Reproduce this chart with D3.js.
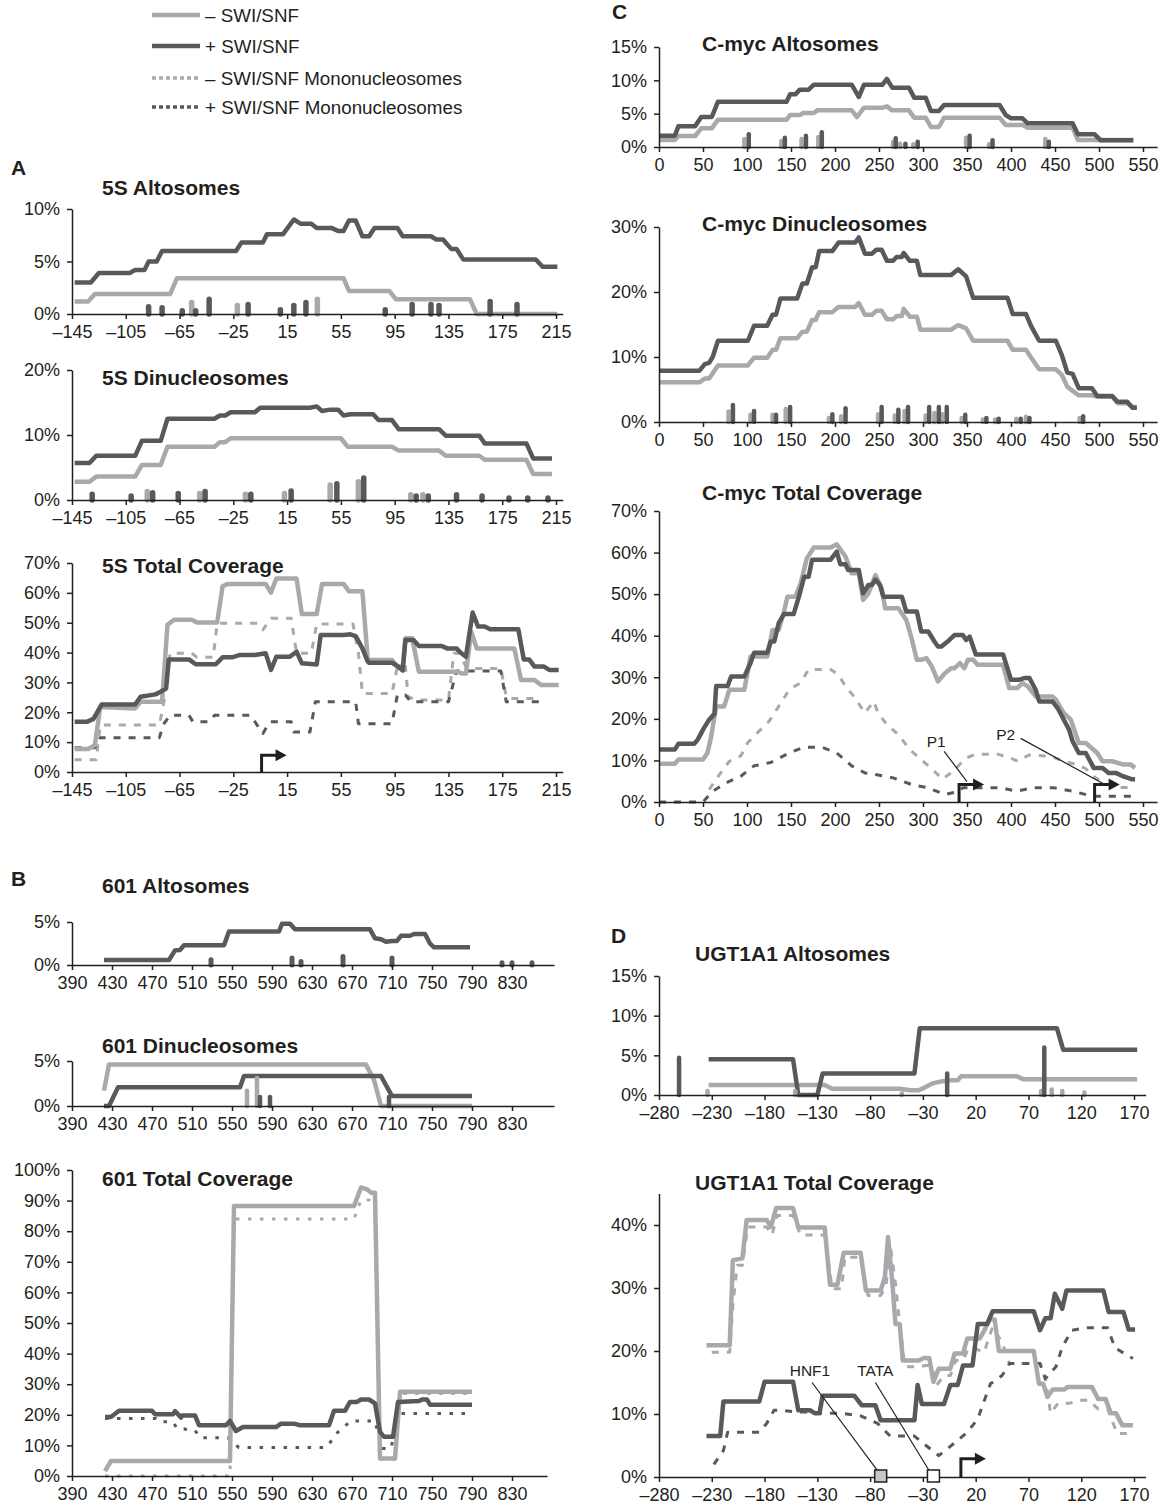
<!DOCTYPE html>
<html>
<head>
<meta charset="utf-8">
<script src="https://cdn.jsdelivr.net/npm/d3@7"></script>
<style>
	body { margin: 0; background: #fff; }
	svg { display: block; font-family: 'Liberation Sans', Arial, Helvetica, sans-serif; }
</style>
</head>
<body>
<svg id="chart" width="1164" height="1510"></svg>
<script>
// ---- ticks ----
const ticks5S = [-145, -105, -65, -25, 15, 55, 95, 135, 175, 215];
const ticks601 = [390, 430, 470, 510, 550, 590, 630, 670, 710, 750, 790, 830];
const ticksMyc = [0, 50, 100, 150, 200, 250, 300, 350, 400, 450, 500, 550];
const ticksUgt = [-280, -230, -180, -130, -80, -30, 20, 70, 120, 170];

// ---- 5S ----
const alto5sPlus = [[-143,3.0],[-131,3.0],[-125,3.9],[-102,3.9],[-98,4.2],[-91,4.2],[-88,5.0],[-82,5.0],[-78,6.0],[-23,6.0],[-19,6.8],[-3,6.8],[0,7.6],[12,7.6],[20,9.0],[25,8.6],[33,8.6],[37,8.2],[48,8.2],[53,7.9],[57,7.9],[61,8.9],[66,8.9],[71,7.4],[76,7.4],[80,8.2],[97,8.2],[101,7.4],[122,7.4],[126,7.1],[131,7.1],[137,6.2],[141,6.2],[146,5.2],[200,5.2],[205,4.5],[216,4.5]];
const alto5sMinus = [[-143,1.2],[-133,1.2],[-128,1.9],[-72,1.9],[-67,3.4],[57,3.4],[61,2.2],[91,2.2],[96,1.4],[151,1.4],[156,0],[216,0]];
const alto5sBarsMinus = [[-56,1.1],[-22,0.8],[37.5,1.4]];
const alto5sBarsPlus = [[-88,0.7],[-78,0.6],[-63,0.3],[-53,0.3],[-43,1.4],[-14,0.9],[10,0.4],[20,0.8],[29,1.1],[88,0.4],[108,0.9],[122,0.9],[128,0.8],[166,1.2],[186,0.9]];

const di5sPlus = [[-143,5.7],[-132,5.7],[-127,6.8],[-98,6.8],[-93,9.1],[-79,9.1],[-74,12.5],[-39,12.5],[-35,13.0],[-31,13.0],[-27,13.5],[-9,13.5],[-5,14.2],[32,14.2],[37,14.4],[41,13.7],[47,13.9],[53,13.9],[57,13.0],[62,13.2],[79,13.2],[83,12.3],[93,12.3],[98,10.9],[128,10.9],[133,9.9],[158,9.9],[162,8.7],[193,8.7],[198,6.4],[212,6.4]];
const di5sMinus = [[-143,2.8],[-132,2.8],[-127,3.6],[-98,3.6],[-93,5.4],[-79,5.4],[-74,8.2],[-39,8.2],[-35,8.9],[-31,8.9],[-27,9.5],[55,9.5],[60,8.2],[93,8.2],[98,7.6],[128,7.6],[133,6.8],[158,6.8],[162,6.2],[193,6.2],[198,4.0],[212,4.0]];
const di5sBarsMinus = [[-89,1.3],[-50,1.0],[-16,0.9],[13,1.0],[47,2.3],[68,2.8],[107,0.8],[116,0.8]];
const di5sBarsPlus = [[-130,0.9],[-101,0.6],[-85,1.1],[-66,1.0],[-46,1.3],[-12,0.9],[18,1.4],[52,2.5],[72,3.4],[111,0.6],[120,0.6],[141,0.8],[160,0.6],[180,0.3],[194,0.3],[209,0.3]];

const tot5sPlus = [[-143,16.8],[-134,16.8],[-129,17.8],[-123,22.6],[-98,22.6],[-94,25.2],[-83,26.0],[-79,26.9],[-75,28],[-73,37.7],[-58,37.7],[-53,36.1],[-38,36.1],[-33,38.4],[-26,38.4],[-20,39.2],[-9,39.2],[-1,39.8],[3,34.2],[7,38.6],[17,38.6],[22,40.3],[26,36.4],[37,36.0],[40,45.9],[57,45.9],[62,46.1],[66,45.5],[71,41.4],[75,37],[76,36.6],[93,36.6],[97,35.5],[101,34.0],[103,44.2],[109,44.2],[113,42.2],[130,42.2],[134,41.4],[141,41.4],[144,40.0],[148,38.6],[153,53.4],[157,48.7],[162,48.7],[166,47.8],[187,47.8],[191,37.7],[195,37.7],[199,35.3],[206,35.3],[210,34.2],[217,34.2]];
const tot5sMinus = [[-143,7.7],[-133,7.7],[-128,9.0],[-124,21.8],[-98,21.3],[-94,23.5],[-78,23.5],[-74,49.3],[-69,51.0],[-56,51.0],[-52,50.1],[-37,50.1],[-33,62.2],[-29,63.0],[-1,63.0],[3,60.1],[7,64.8],[22,64.8],[26,52.9],[37,52.9],[41,63.0],[57,63.0],[61,60.5],[71,60.5],[75,37.5],[93,37.5],[97,35.3],[101,35.3],[103,44.8],[108,44.8],[113,33.6],[141,33.6],[145,33.0],[148,33.0],[152,47.0],[156,41.4],[184,41.4],[189,30.8],[199,30.8],[204,29.1],[217,29.1]];
const mono5sMinus = [[-143,4.1],[-127,4.1],[-124,15.7],[-80,15.7],[-76,25],[-72,39.8],[-56,39.8],[-52,38.4],[-40,38.4],[-37,49.8],[-7,49.8],[-3,47.6],[3,51.5],[18,51.5],[22,39.8],[33,39.8],[37,49.6],[64,49.6],[68,40],[71,26.3],[93,26.3],[97,35.3],[103,35.3],[105,25.2],[111,24.1],[135,24.1],[139,39.8],[143,39.8],[148,35.3],[152,34.7],[174,34.7],[178,25.2],[183,24.6],[203,24.6]];
const mono5sPlus = [[-143,8.1],[-128,8.1],[-124,11.5],[-80,11.5],[-77,16],[-72,19.0],[-58,19.0],[-55,16.8],[-43,16.8],[-39,19.0],[-12,19.0],[-8,16.2],[-3,12.9],[2,16.8],[18,16.8],[20,13.4],[32,13.4],[36,23.5],[66,23.5],[68,16.2],[93,16.2],[97,25.8],[103,25.8],[107,23.5],[135,23.5],[141,33.8],[174,33.8],[178,23.5],[203,23.5]];
const tss5s = [{ x: -4, h: 5.6 }];

// ---- 601 ----
const alto601Plus = [[422,0.58],[487,0.58],[493,1.7],[498,1.75],[502,2.3],[542,2.3],[547,3.9],[597,3.9],[600,4.8],[608,4.8],[613,4.15],[688,4.15],[693,3.1],[699,3.0],[704,2.7],[710,2.8],[715,2.8],[719,3.4],[728,3.4],[732,3.6],[743,3.6],[748,2.5],[752,2.05],[788,2.05]];
const alto601BarsPlus = [[529,0.6],[610,0.8],[619,0.4],[661,1.0],[710,0.8],[820,0.25],[830,0.25],[850,0.25]];

const di601Plus = [[422,0],[427,0],[436,2.07],[558,2.07],[562,3.33],[699,3.33],[710,1.1],[790,1.1]];
const di601Minus = [[422,1.7],[427,4.6],[684,4.6],[692,2.9],[699,0],[790,0]];
const di601BarsMinus = [[565,1.7],[575,3.1]];
const di601BarsPlus = [[578,1.0],[588,1.0],[707,1.0]];

const tot601Minus = [[423,1.6],[429,4.9],[548,4.9],[552,88.2],[672,88.2],[679,94.3],[685,93.7],[689,92.6],[693,92.6],[698,5.7],[713,5.7],[718,27.5],[790,27.5]];
const tot601Plus = [[423,19.3],[429,19.3],[437,21.3],[470,21.3],[473,20.2],[491,20.2],[493,21.2],[499,19.1],[500,19.8],[513,19.8],[517,16.6],[544,16.6],[548,18.0],[554,14.7],[561,16.0],[594,16.0],[599,17.1],[612,17.1],[618,16.6],[647,16.6],[652,21.3],[663,21.3],[668,24.2],[675,24.2],[679,25.0],[687,25.0],[693,23.7],[698,14.4],[702,12.8],[711,12.8],[716,24.2],[737,24.5],[740,25.0],[745,25.0],[748,23.3],[790,23.3]];
const mono601Minus = [[423,0],[548,0],[552,84.0],[672,84.0],[679,90.2],[687,90.2],[693,88],[698,5.5],[713,5.5],[718,27.0],[790,27.0]];
const mono601Plus = [[423,18.8],[474,18.8],[477,17.7],[491,17.7],[495,15.5],[502,15.5],[506,14.9],[513,14.9],[518,12.5],[546,12.5],[550,11],[557,9.3],[644,9.3],[650,11.7],[656,14.4],[661,15.5],[668,18.0],[693,18.0],[700,9.0],[709,9.0],[716,20.4],[790,20.4]];

// ---- C-myc ----
const altoMycPlus = [[0,1.7],[18,1.7],[22,3.1],[41,3.1],[48,4.5],[60,4.5],[67,6.8],[145,6.8],[149,7.9],[155,7.9],[160,8.6],[170,8.6],[176,9.35],[219,9.35],[227,7.5],[233,9.35],[254,9.35],[259,10.2],[265,8.9],[284,8.9],[290,7.4],[303,7.4],[309,5.4],[318,5.4],[324,6.3],[387,6.3],[394,4.8],[400,4.3],[413,4.3],[419,3.55],[470,3.55],[476,1.9],[495,1.9],[502,1.0],[539,1.0]];
const altoMycMinus = [[0,1.05],[18,1.05],[22,1.65],[41,1.65],[48,2.8],[60,2.8],[67,4.1],[145,4.1],[149,4.8],[160,4.8],[164,5.1],[176,5.1],[180,5.5],[219,5.5],[225,4.5],[233,5.9],[254,5.9],[259,6.1],[265,5.5],[284,5.5],[290,4.4],[303,4.4],[309,3.0],[318,3.0],[324,4.4],[387,4.4],[394,3.3],[413,3.3],[419,2.9],[470,2.9],[476,1.05],[539,1.05]];
const altoMycBarsMinus = [[97,1.2],[139,0.9],[162,1.2],[181,1.5],[266,0.8],[274,0.5],[289,0.4],[349,1.4],[375,0.4],[439,1.2]];
const altoMycBarsPlus = [[102,1.9],[143,1.4],[167,1.7],[185,2.2],[269,1.3],[280,0.5],[294,0.8],[353,1.7],[379,1.0],[443,0.8]];

const diMycPlus = [[0,7.9],[46,7.9],[52,8.9],[57,9.1],[61,10.0],[67,12.5],[101,12.5],[108,14.8],[123,14.8],[129,16.5],[133,16.5],[138,19.0],[157,19.0],[163,21.3],[168,21.3],[174,23.8],[178,23.8],[182,26.3],[197,26.3],[204,27.6],[223,27.6],[227,28.4],[234,25.9],[242,25.9],[247,26.5],[253,26.5],[259,24.8],[266,24.8],[270,25.4],[276,25.4],[278,26.0],[285,24.8],[293,24.8],[297,22.6],[332,22.6],[340,23.5],[349,22.4],[357,19.1],[396,19.1],[402,16.6],[417,16.6],[423,14.7],[432,12.5],[451,12.5],[458,10.2],[464,7.6],[470,7.4],[477,5.2],[492,5.2],[498,4.0],[515,4.0],[521,3.1],[532,3.1],[538,2.2],[543,2.2]];
const diMycMinus = [[0,6.1],[46,6.1],[52,6.7],[57,6.7],[67,8.7],[101,8.7],[108,9.9],[123,9.9],[129,11.1],[133,11.1],[138,12.9],[157,12.9],[163,13.9],[168,13.9],[174,15.7],[178,15.7],[182,16.9],[197,16.9],[204,17.7],[223,17.7],[227,18.3],[234,16.5],[242,16.5],[247,17.1],[253,17.1],[259,15.8],[266,15.8],[270,16.3],[276,16.3],[278,17.4],[285,16.2],[293,16.2],[297,14.2],[332,14.2],[340,14.9],[349,14.4],[357,12.5],[396,12.5],[402,11.1],[417,11.1],[423,9.9],[432,8.1],[451,8.1],[458,7.2],[464,5.4],[477,4.1],[492,4.1],[498,3.9],[515,3.9],[521,2.9],[532,2.9],[538,2.3],[543,2.3]];
const diMycBarsMinus = [[79,1.6],[104,1.1],[129,1.1],[144,2.0],[193,0.6],[207,0.9],[249,1.2],[268,1.0],[279,1.7],[303,1.0],[313,1.4],[322,1.2],[344,0.6],[368,0.4],[382,0.4],[406,0.5],[417,0.8],[478,0.6]];
const diMycBarsPlus = [[84,2.6],[108,1.7],[133,1.1],[149,2.3],[197,1.2],[212,2.1],[253,2.3],[272,1.9],[283,2.3],[307,2.3],[318,2.3],[327,2.3],[348,1.1],[372,0.6],[386,0.5],[411,0.5],[421,0.6],[482,0.9]];

const totMycPlus = [[0,12.6],[18,12.6],[22,14.0],[40,14.0],[44,15.0],[50,17.4],[57,19.8],[63,21.2],[65,27.9],[78,27.9],[82,30.2],[97,30.2],[104,33.4],[108,35.9],[123,35.9],[127,38.6],[131,38.6],[136,43.0],[142,45.2],[153,45.2],[159,49.4],[165,54.2],[170,54.2],[174,58.3],[195,58.3],[202,60.2],[206,57.2],[212,57.2],[215,55.8],[227,55.8],[232,50.2],[238,52.2],[242,52.2],[246,53.5],[251,52.2],[255,49.4],[276,49.4],[281,45.8],[293,45.8],[298,41.0],[306,41.0],[313,38.6],[317,37.4],[321,37.4],[328,38.6],[336,40.2],[345,40.2],[349,39.0],[353,39.8],[360,35.5],[391,35.5],[400,29.4],[409,29.4],[415,29.8],[421,29.8],[428,27.0],[432,24.2],[447,24.2],[453,22.6],[460,19.8],[466,17.4],[470,14.6],[477,11.8],[485,11.8],[494,8.2],[504,8.2],[511,7.0],[519,7.0],[526,6.3],[537,5.5],[541,5.5]];
const totMycMinus = [[0,9.2],[18,9.2],[22,10.2],[50,10.2],[55,11.8],[59,15.4],[65,23.0],[74,23.0],[80,27.0],[97,27.0],[104,35.0],[123,35.0],[129,41.4],[136,41.4],[142,45.8],[146,49.4],[155,49.4],[161,52.6],[168,58.6],[176,61.2],[195,61.2],[202,62.0],[212,59.0],[219,55.0],[227,55.0],[232,48.6],[238,50.2],[246,54.6],[253,51.4],[257,46.6],[272,46.6],[281,43.8],[287,39.4],[293,34.2],[298,34.2],[304,34.6],[310,32.6],[317,29.0],[325,31.0],[332,32.2],[336,32.2],[342,33.4],[347,32.2],[351,34.2],[357,34.2],[362,33.0],[391,33.0],[398,27.4],[407,27.4],[413,28.6],[419,27.8],[428,25.4],[447,25.4],[451,24.6],[460,21.4],[468,19.8],[477,14.2],[485,14.2],[498,11.8],[504,9.8],[515,9.8],[528,9.0],[536,9.0],[541,8.2]];
const monoMycMinus = [[57,3.0],[70,7.0],[80,9.8],[93,11.1],[101,14.3],[114,17.1],[125,19.4],[136,23.0],[148,27.0],[161,28.7],[170,31.9],[195,31.9],[204,30.6],[212,27.8],[223,25.0],[234,21.4],[244,24.2],[249,21.4],[259,18.6],[272,16.2],[285,12.6],[298,10.2],[310,8.0],[322,5.5],[335,7.5],[348,10.5],[360,11.5],[385,11.5],[400,10.5],[408,9.8],[420,11.3],[445,11.0],[460,9.8],[475,9.0],[485,8.0],[495,6.0],[505,4.5],[520,3.5],[540,3.5]];
const monoMycPlus = [[0,0],[50,0],[61,2.6],[76,4.6],[93,6.2],[108,8.7],[127,9.5],[148,11.8],[165,13.2],[185,13.2],[202,11.8],[219,8.7],[234,7.0],[246,6.6],[266,5.8],[287,4.2],[306,3.4],[325,1.8],[340,2.5],[345,3.4],[389,3.4],[406,2.6],[425,3.4],[449,3.4],[470,2.6],[492,1.4],[540,1.4]];
const tssMyc = [{ x: 341, h: 4.2 }, { x: 495, h: 4.2 }];
const promoterMyc = [
	{ name: 'P1', lx: 315, ly: 14.6, from: [324, 12.2], to: [350, 4.9] },
	{ name: 'P2', lx: 394, ly: 16.2, from: [411, 15.3], to: [505, 4.4] },
];

// ---- UGT1A1 ----
const altoUgtPlus = [[-233,4.5],[-153,4.5],[-148,0],[-130,0],[-125,2.7],[-38,2.7],[-33,8.4],[97,8.4],[103,5.7],[173,5.7]];
const altoUgtMinus = [[-233,1.25],[-123,1.25],[-116,0.8],[-52,0.8],[-42,0.6],[-34,0.6],[-29,0.9],[-20,1.5],[-13,1.7],[-4,1.85],[3,1.85],[6,2.35],[59,2.35],[65,2.0],[173,2.0]];
const altoUgtBarsMinus = [[-234,0.5],[-151,0.5],[-50,0.2],[82,0.5],[92,0.7],[102,0.5],[123,0.3]];
const altoUgtBarsPlus = [[-261,4.7],[-7,2.7],[85,6.0]];

const totUgtMinus = [[-235,20.9],[-213,20.9],[-210,34.4],[-201,34.7],[-197,40.8],[-178,40.8],[-174,39.7],[-169,42.7],[-153,42.7],[-148,39.6],[-123,39.6],[-118,30.5],[-111,30.5],[-105,35.6],[-89,35.6],[-84,29.6],[-70,29.6],[-66,31.7],[-63,38.1],[-59,31],[-56,24.3],[-52,24.3],[-49,18.5],[-34,18.5],[-29,18.9],[-24,18.9],[-20,15.1],[-15,17.2],[-4,17.2],[0,19.6],[8,19.6],[12,22.0],[24,22.0],[29,23.5],[33,25.0],[38,25.0],[42,20.0],[75,20.0],[80,14.8],[84,14.8],[88,12.7],[93,13.9],[104,13.9],[107,14.3],[130,14.3],[136,12.4],[143,12.4],[148,10.1],[153,10.1],[159,8.2],[169,8.2]];
const monoUgtMinus = [[-230,19.8],[-213,19.8],[-210,27.2],[-206,33.6],[-201,33.6],[-196,39.7],[-178,39.7],[-173,38.4],[-168,41.5],[-153,41.5],[-146,38.4],[-123,38.4],[-116,29.9],[-107,29.9],[-104,34.9],[-89,34.9],[-82,28.8],[-70,28.8],[-65,30.2],[-61,36.9],[-56,30.7],[-52,24.3],[-47,17.5],[-34,17.5],[-27,17.7],[-22,17.7],[-17,14.6],[-10,16.1],[-4,16.1],[1,18.5],[8,18.5],[13,20.4],[19,20.4],[28,19.8],[36,23.8],[45,21.4],[52,18.0],[81,18.0],[86,15.6],[91,10.1],[98,11.7],[109,11.7],[118,12.2],[127,12.2],[136,10.8],[145,10.8],[154,6.9],[167,6.9]];
const totUgtPlus = [[-235,6.5],[-222,6.5],[-219,12.0],[-185,12.0],[-180,15.1],[-153,15.1],[-148,10.6],[-137,10.6],[-132,10.1],[-128,10.1],[-125,12.9],[-95,12.9],[-88,11.4],[-75,11.4],[-70,9.0],[-38,9.0],[-35,14.6],[-31,11.6],[-10,11.6],[-4,14.6],[3,14.6],[8,17.7],[17,17.7],[22,24.3],[31,24.3],[36,26.3],[75,26.3],[81,23.3],[86,25.2],[91,25.2],[95,29.1],[102,26.7],[106,29.6],[141,29.6],[146,26.2],[160,26.2],[165,23.4],[171,23.4]];
const monoUgtPlus = [[-228,2.0],[-219,4.2],[-215,7.1],[-185,7.1],[-178,8.5],[-171,10.6],[-166,10.6],[-148,10.3],[-139,10.3],[-125,10.1],[-107,10.1],[-89,9.7],[-73,8.5],[-61,6.5],[-38,6.5],[-27,5.0],[-15,3.4],[-3,5.0],[12,7.1],[22,9.2],[27,11.6],[34,14.8],[45,16.1],[52,18.0],[81,18.0],[86,15.6],[96,17.5],[102,20.6],[111,23.3],[125,23.7],[145,23.7],[152,20.5],[169,18.8]];
const tssUgt = [{ x: 6, h: 2.9 }];
const sitesUgt = [
	{ name: 'HNF1', x: -70, fill: '#c7c8ca', lx: -137, ly: 16.9, from: [-135, 15.0], to: [-73, 1.0] },
	{ name: 'TATA', x: -20, fill: '#ffffff', lx: -75, ly: 16.9, from: [-75, 15.0], to: [-24, 1.0] },
];

const legendItems = [
	{ label: '\u2013 SWI/SNF', key: 'minus' },
	{ label: '+ SWI/SNF', key: 'plus' },
	{ label: '\u2013 SWI/SNF Mononucleosomes', key: 'monoMinus' },
	{ label: '+ SWI/SNF Mononucleosomes', key: 'monoPlus' },
];

// ---- styles ----
const INK = '#231f20';
const style = {
	minus: { color: '#a7a9ac', width: 4.5, dash: null },
	plus: { color: '#58595b', width: 4.5, dash: null },
	monoMinus: { color: '#a7a9ac', width: 3, dash: '7,8' },
	monoPlus: { color: '#58595b', width: 3, dash: '7,8' },
};

const svg = d3.select('#chart');
const fmtX = (d) => d < 0 ? `\u2013${ Math.abs(d) }` : `${ d }`;

const drawPanel = (cfg) => {
	const g = svg.append('g');
	const n = cfg.xTicks.length - 1;
	const x = d3.scaleLinear()
		.domain([cfg.xTicks[0], cfg.xTicks[n]])
		.range(cfg.xPx);
	const xEndPx = x(cfg.xEnd);
	x.domain([cfg.xTicks[0], cfg.xEnd]).range([cfg.xPx[0], xEndPx]);

	const m = cfg.yTicks.length - 1;
	const y = d3.scaleLinear()
		.domain([0, cfg.yTicks[m]])
		.range(cfg.yPx);
	if (cfg.yEnd) {
		const top = y(cfg.yEnd);
		y.domain([0, cfg.yEnd]).range([cfg.yPx[0], top]);
	}

	const line = d3.line()
		.x((d) => x(d[0]))
		.y((d) => y(d[1]));

	(cfg.series ?? []).forEach(({ data, key, dash }) => {
		const s = style[key];
		g.append('path')
			.datum(data)
			.attr('d', line)
			.attr('fill', 'none')
			.attr('stroke', s.color)
			.attr('stroke-width', s.width)
			.attr('stroke-dasharray', dash ?? s.dash)
			.attr('stroke-linejoin', 'round');
	});

	(cfg.bars ?? []).forEach(({ data, key }) => {
		g.append('g')
			.selectAll('line')
			.data(data)
			.join('line')
				.attr('x1', (d) => x(d[0]))
				.attr('x2', (d) => x(d[0]))
				.attr('y1', y(0))
				.attr('y2', (d) => y(d[1]))
				.attr('stroke', style[key].color)
				.attr('stroke-width', cfg.barWidth ?? 5)
				.attr('stroke-linecap', 'round');
	});

	// transcription start arrows
	(cfg.tss ?? []).forEach(({ x: tx, h }) => {
		const px = x(tx);
		const py = y(h);
		g.append('path')
			.attr('d', `M${ px },${ y(0) }V${ py }H${ px + 15 }`)
			.attr('fill', 'none')
			.attr('stroke', INK)
			.attr('stroke-width', 3);
		g.append('path')
			.attr('d', `M${ px + 14 },${ py - 6 }L${ px + 25 },${ py }L${ px + 14 },${ py + 6 }Z`)
			.attr('fill', INK);
	});

	(cfg.callouts ?? []).forEach((c) => {
		g.append('line')
			.attr('x1', x(c.from[0])).attr('y1', y(c.from[1]))
			.attr('x2', x(c.to[0])).attr('y2', y(c.to[1]))
			.attr('stroke', INK)
			.attr('stroke-width', 1.2);
		g.append('text')
			.attr('x', x(c.lx))
			.attr('y', y(c.ly) + 5.5)
			.attr('text-anchor', 'middle')
			.attr('font-size', 15.5)
			.attr('fill', INK)
			.text(c.name);
	});

	// axes
	const ax = g.append('g')
		.attr('transform', `translate(0,${ y(0) })`)
		.call(d3.axisBottom(x).tickValues(cfg.xTicks).tickFormat(fmtX)
			.tickSize(5).tickSizeOuter(0).tickPadding(6));
	const ay = g.append('g')
		.attr('transform', `translate(${ cfg.xPx[0] },0)`)
		.call(d3.axisLeft(y).tickValues(cfg.yTicks).tickFormat((d) => `${ d }%`)
			.tickSize(5).tickSizeOuter(0).tickPadding(7));
	[ax, ay].forEach((a) => {
		a.attr('font-family', null).attr('font-size', null);
		a.selectAll('path, line').attr('stroke', INK).attr('stroke-width', 1.5);
		a.selectAll('text').attr('font-size', 18).attr('fill', INK);
	});

	// site boxes sit on the axis
	(cfg.sites ?? []).forEach((s) => {
		g.append('rect')
			.attr('x', x(s.x) - 6)
			.attr('y', y(0) - 7)
			.attr('width', 12)
			.attr('height', 12)
			.attr('fill', s.fill)
			.attr('stroke', INK)
			.attr('stroke-width', 1.5);
	});

	svg.append('text')
		.attr('x', cfg.title[1])
		.attr('y', cfg.title[2] + 7.5)
		.attr('font-size', 21)
		.attr('font-weight', 'bold')
		.attr('fill', INK)
		.text(cfg.title[0]);
};

const xA = { xTicks: ticks5S, xPx: [72, 556], xEnd: 220 };
const xB = { xTicks: ticks601, xPx: [72, 512], xEnd: 872 };
const xC = { xTicks: ticksMyc, xPx: [659, 1143], xEnd: 566 };
const xD = { xTicks: ticksUgt, xPx: [659, 1134], xEnd: 181 };

const panels = [
	{ ...xA, yTicks: [0, 5, 10], yPx: [314, 209], title: ['5S Altosomes', 102, 187], barWidth: 5.5,
		series: [{ data: alto5sMinus, key: 'minus' }, { data: alto5sPlus, key: 'plus' }],
		bars: [{ data: alto5sBarsMinus, key: 'minus' }, { data: alto5sBarsPlus, key: 'plus' }] },
	{ ...xA, yTicks: [0, 10, 20], yPx: [500, 370], title: ['5S Dinucleosomes', 102, 377], barWidth: 5.5,
		series: [{ data: di5sMinus, key: 'minus' }, { data: di5sPlus, key: 'plus' }],
		bars: [{ data: di5sBarsMinus, key: 'minus' }, { data: di5sBarsPlus, key: 'plus' }] },
	{ ...xA, yTicks: [0, 10, 20, 30, 40, 50, 60, 70], yPx: [772, 563], title: ['5S Total Coverage', 102, 565],
		series: [{ data: mono5sMinus, key: 'monoMinus' }, { data: mono5sPlus, key: 'monoPlus' },
			{ data: tot5sMinus, key: 'minus' }, { data: tot5sPlus, key: 'plus' }],
		tss: tss5s },
	{ ...xB, yTicks: [0, 5], yPx: [965, 922], title: ['601 Altosomes', 102, 885], barWidth: 5,
		series: [{ data: alto601Plus, key: 'plus' }],
		bars: [{ data: alto601BarsPlus, key: 'plus' }] },
	{ ...xB, yTicks: [0, 5], yPx: [1106, 1061], title: ['601 Dinucleosomes', 102, 1045], barWidth: 4.5,
		series: [{ data: di601Minus, key: 'minus' }, { data: di601Plus, key: 'plus' }],
		bars: [{ data: di601BarsMinus, key: 'minus' }, { data: di601BarsPlus, key: 'plus' }] },
	{ ...xB, xEnd: 865, yTicks: [0, 10, 20, 30, 40, 50, 60, 70, 80, 90, 100], yPx: [1476, 1170], title: ['601 Total Coverage', 102, 1178],
		series: [{ data: mono601Minus, key: 'monoMinus', dash: '3.5,8.5' }, { data: mono601Plus, key: 'monoPlus', dash: '3.5,8.5' },
			{ data: tot601Minus, key: 'minus' }, { data: tot601Plus, key: 'plus' }] },
	{ ...xC, yTicks: [0, 5, 10, 15], yPx: [147, 47], title: ['C-myc Altosomes', 702, 43], barWidth: 4.5,
		series: [{ data: altoMycMinus, key: 'minus' }, { data: altoMycPlus, key: 'plus' }],
		bars: [{ data: altoMycBarsMinus, key: 'minus' }, { data: altoMycBarsPlus, key: 'plus' }] },
	{ ...xC, yTicks: [0, 10, 20, 30], yPx: [422, 227], title: ['C-myc Dinucleosomes', 702, 223], barWidth: 4.5,
		series: [{ data: diMycMinus, key: 'minus' }, { data: diMycPlus, key: 'plus' }],
		bars: [{ data: diMycBarsMinus, key: 'minus' }, { data: diMycBarsPlus, key: 'plus' }] },
	{ ...xC, yTicks: [0, 10, 20, 30, 40, 50, 60, 70], yPx: [802, 511], title: ['C-myc Total Coverage', 702, 492],
		series: [{ data: monoMycMinus, key: 'monoMinus' }, { data: monoMycPlus, key: 'monoPlus' },
			{ data: totMycMinus, key: 'minus' }, { data: totMycPlus, key: 'plus' }],
		tss: tssMyc, callouts: promoterMyc },
	{ ...xD, yTicks: [0, 5, 10, 15], yPx: [1095, 976], title: ['UGT1A1 Altosomes', 695, 953], barWidth: 4.5,
		series: [{ data: altoUgtMinus, key: 'minus' }, { data: altoUgtPlus, key: 'plus' }],
		bars: [{ data: altoUgtBarsMinus, key: 'minus' }, { data: altoUgtBarsPlus, key: 'plus' }] },
	{ ...xD, yTicks: [0, 10, 20, 30, 40], yEnd: 45, yPx: [1477, 1225], title: ['UGT1A1 Total Coverage', 695, 1182],
		series: [{ data: monoUgtMinus, key: 'monoMinus' }, { data: monoUgtPlus, key: 'monoPlus' },
			{ data: totUgtMinus, key: 'minus' }, { data: totUgtPlus, key: 'plus' }],
		tss: tssUgt, callouts: sitesUgt, sites: sitesUgt },
];

panels.forEach(drawPanel);

// panel letters
[['A', 11, 175], ['B', 11, 886], ['C', 612, 19], ['D', 611, 943]].forEach(([t, lx, ly]) => {
	svg.append('text')
		.attr('x', lx).attr('y', ly)
		.attr('font-size', 21).attr('font-weight', 'bold').attr('fill', INK)
		.text(t);
});

// legend
const legendY = [15, 46, 78, 107];
const legend = svg.append('g');
legendItems.forEach(({ label, key }, i) => {
	const s = style[key];
	legend.append('line')
		.attr('x1', 152).attr('x2', 200)
		.attr('y1', legendY[i]).attr('y2', legendY[i])
		.attr('stroke', s.color)
		.attr('stroke-width', s.dash ? 3.5 : 4.5)
		.attr('stroke-dasharray', s.dash ? '4,3' : null);
	legend.append('text')
		.attr('x', 205).attr('y', legendY[i] + 6.5)
		.attr('font-size', 18.8).attr('fill', INK)
		.text(label);
});
</script>
</body>
</html>
